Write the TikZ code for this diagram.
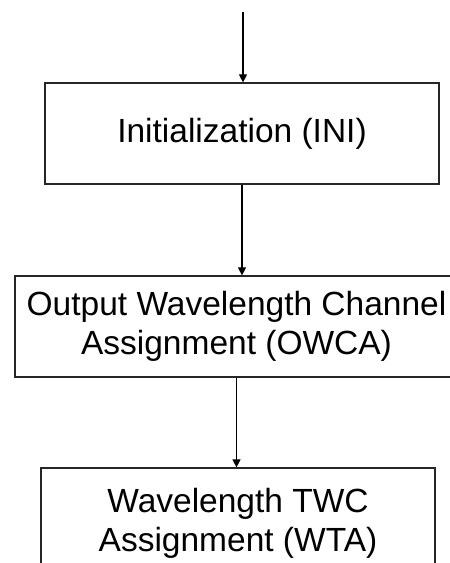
\documentclass[tikz,border=0pt]{standalone}
\usepackage{fontspec}
\setmainfont{Liberation Sans}
\usetikzlibrary{arrows.meta}
\begin{document}
\begin{tikzpicture}[x=1pt,y=-1pt,
  box/.style={draw=black!85, line width=1.2pt, rectangle, inner sep=0pt,
    align=center, font=\fontsize{33.5}{39.5}\selectfont},
  conn/.style={draw=black, line width=1.1pt, -{Triangle[length=8pt,width=8pt]}}]
\useasboundingbox (0,0) rectangle (450,563);
\clip (0,0) rectangle (450,563);
\node[box, minimum width=394pt, minimum height=101pt] (ini) at (242,133.5) {Initialization (INI)};
\node[box, minimum width=443pt, minimum height=101pt] (owca) at (236.5,326.5) {Output Wavelength Channel\\Assignment (OWCA)};
\node[box, minimum width=394pt, minimum height=111pt] (wta) at (238,523.5) {Wavelength TWC\\Assignment (WTA)};
\coordinate (start) at (243,12);
\draw[conn] (start) -- (start |- ini.north);
\draw[conn] (ini.south) -- (ini.south |- owca.north);
\draw[conn] (owca.south) -- (owca.south |- wta.north);
\end{tikzpicture}
\end{document}
